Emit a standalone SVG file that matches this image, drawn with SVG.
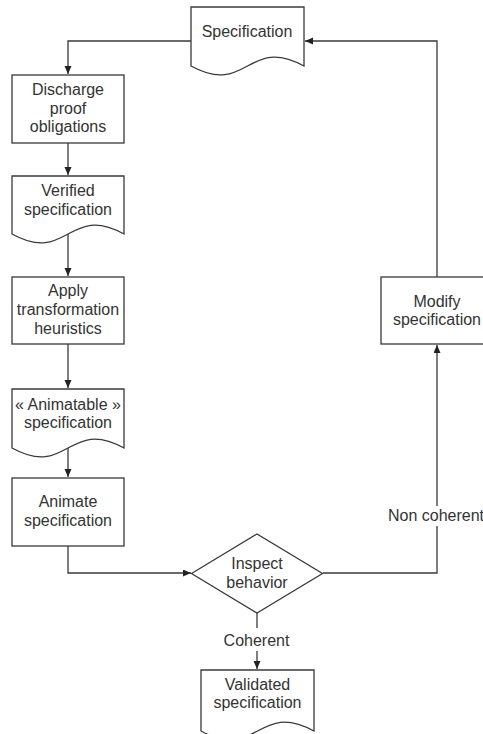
<svg xmlns="http://www.w3.org/2000/svg" width="483" height="734" viewBox="0 0 483 734">
<style>
.s{fill:#fff;stroke:#3a3a3a;stroke-width:1.3}
.c{fill:none;stroke:#3a3a3a;stroke-width:1.3}
text{font-family:"Liberation Sans",Arial,sans-serif;font-size:16px;fill:#333;text-anchor:middle}
</style>
<defs>
<marker id="ah" markerUnits="userSpaceOnUse" markerWidth="9" markerHeight="8" refX="8" refY="3.5" orient="auto">
<path d="M0,0 L8,3.5 L0,7 z" fill="#222"/>
</marker>
</defs>
<rect width="483" height="734" fill="#fff"/>
<g id="connectors">
<path class="c" d="M191,41 H68 V74" marker-end="url(#ah)"/>
<path class="c" d="M68,143 V175" marker-end="url(#ah)"/>
<path class="c" d="M68,234 V276" marker-end="url(#ah)"/>
<path class="c" d="M68,344 V388" marker-end="url(#ah)"/>
<path class="c" d="M68,448 V477" marker-end="url(#ah)"/>
<path class="c" d="M68,546 V573 H191" marker-end="url(#ah)"/>
<path class="c" d="M323,573 H437 V345" marker-end="url(#ah)"/>
<path class="c" d="M437,277 V41 H305" marker-end="url(#ah)"/>
<path class="c" d="M257,613 V669" marker-end="url(#ah)"/>
<rect x="388" y="506" width="96" height="20" fill="#fff"/>
<text x="436" y="521">Non coherent</text>
<rect x="222" y="628" width="70" height="23" fill="#fff"/>
<text x="256.5" y="646">Coherent</text>
</g>
<g id="spec">
<path class="s" d="M191,7 H304 V66 C247.5,35 247.5,97 191,66 Z"/>
<text x="247" y="37">Specification</text>
</g>
<g id="discharge">
<rect class="s" x="12" y="75" width="112" height="68"/>
<text x="68" y="95">Discharge</text>
<text x="68" y="113.5">proof</text>
<text x="68" y="132">obligations</text>
</g>
<g id="verified">
<path class="s" d="M12,176 H124 V234 C68,203 68,265 12,234 Z"/>
<text x="68" y="196">Verified</text>
<text x="68" y="214.5">specification</text>
</g>
<g id="apply">
<rect class="s" x="12" y="277" width="112" height="67"/>
<text x="68" y="296">Apply</text>
<text x="68" y="315">transformation</text>
<text x="68" y="334">heuristics</text>
</g>
<g id="animatable">
<path class="s" d="M12,389 H124 V448 C68,417 68,479 12,448 Z"/>
<text x="68" y="409.5">« Animatable »</text>
<text x="68" y="428">specification</text>
</g>
<g id="animate">
<rect class="s" x="12" y="478" width="112" height="68"/>
<text x="68" y="507">Animate</text>
<text x="68" y="526">specification</text>
</g>
<g id="inspect">
<path class="s" d="M191.5,573.5 L257,534 L322.5,573.5 L257,613 Z"/>
<text x="257" y="569">Inspect</text>
<text x="257" y="587.5">behavior</text>
</g>
<g id="modify">
<rect class="s" x="381" y="277" width="113" height="67"/>
<text x="437" y="307">Modify</text>
<text x="437" y="325">specification</text>
</g>
<g id="validated">
<path class="s" d="M201,670 H314 V731 C257.5,700 257.5,762 201,731 Z"/>
<text x="257.5" y="689.5">Validated</text>
<text x="257.5" y="708">specification</text>
</g>
</svg>
